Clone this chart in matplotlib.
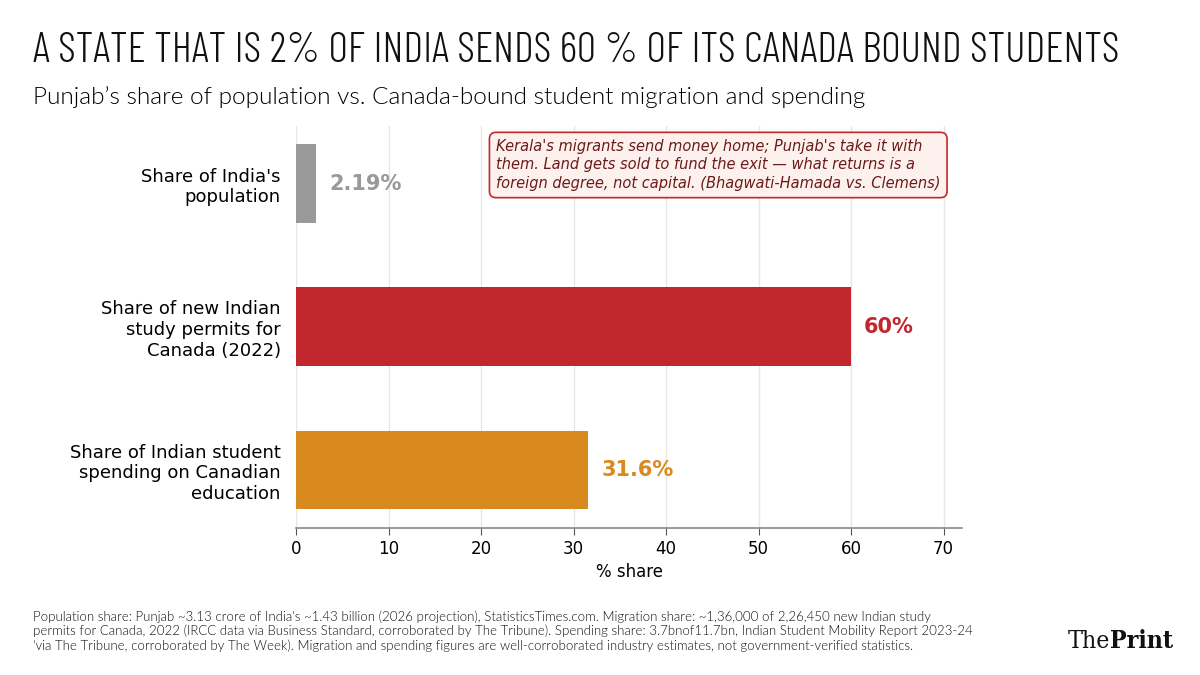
import matplotlib
matplotlib.use("Agg")
import matplotlib.pyplot as plt

# data
categories = ["Share of India's\npopulation",
              "Share of new Indian\nstudy permits for\nCanada (2022)",
              "Share of Indian student\nspending on Canadian\neducation"]
values = [2.19, 60, 31.6]
value_labels = ["2.19%", "60%", "31.6%"]
colors = ["#999999", "#c1272d", "#d98a1e"]
xticks = [0, 10, 20, 30, 40, 50, 60, 70]

title = "A STATE THAT IS 2% OF INDIA SENDS 60 % OF ITS CANADA BOUND STUDENTS"
subtitle = "Punjab\u2019s share of population vs. Canada-bound student migration and spending"
note = ("Kerala's migrants send money home; Punjab's take it with\n"
        "them. Land gets sold to fund the exit \u2014 what returns is a\n"
        "foreign degree, not capital. (Bhagwati-Hamada vs. Clemens)")
footnote = ("Population share: Punjab ~3.13 crore of India's ~1.43 billion (2026 projection), StatisticsTimes.com. Migration share: ~1,36,000 of 2,26,450 new Indian study\n"
            "permits for Canada, 2022 (IRCC data via Business Standard, corroborated by The Tribune). Spending share: 3.7bnof11.7bn, Indian Student Mobility Report 2023-24\n"
            "'via The Tribune, corroborated by The Week). Migration and spending figures are well-corroborated industry estimates, not government-verified statistics.")

plt.rcParams["font.family"] = "DejaVu Sans"
fig = plt.figure(figsize=(12, 6.75), dpi=100)
ax = fig.add_axes([296/1200, 1 - 527.7/675, (962-296)/1200, (527.7-126)/675])

y = list(range(len(values)))
ax.barh(y, values, height=0.55, color=colors, zorder=3)
ax.invert_yaxis()
ax.set_xlim(0, 72)
ax.set_xticks(xticks)
ax.set_yticks(y)
ax.set_yticklabels(categories, fontsize=13)
ax.tick_params(axis="y", length=0, pad=11)
ax.tick_params(axis="x", labelsize=12, color="#555555", length=5)
ax.set_xlabel("% share", fontsize=12)
ax.grid(axis="x", color="#e6e6e6", linewidth=1, zorder=0)
for s in ["top", "right", "left"]:
    ax.spines[s].set_visible(False)
ax.spines["bottom"].set_color("#888888")
ax.spines["bottom"].set_linewidth(1.2)

# value labels next to the bars
for yi, v, lab, c in zip(y, values, value_labels, colors):
    ax.text(v + 1.4, yi, lab, va="center", ha="left", fontsize=15,
            fontweight="bold", color=c)

fig.text(496/1200, 1 - 165/675, note, fontsize=10.5, style="italic",
         color="#6b1a1a", va="center", ha="left", linespacing=1.3,
         bbox=dict(boxstyle="round,pad=0.45", facecolor="#fdf1ee",
                   edgecolor="#c1272d", linewidth=1.2))

fig.text(33/1200, 1 - 62/675, title, fontsize=30.8, family="Barlow Condensed",
         fontweight=300, ha="left", va="baseline", color="#111111")
fig.text(33/1200, 1 - 104/675, subtitle, fontsize=17.6, family="Lato",
         fontweight=300, ha="left", va="baseline", color="#000000")
fig.text(33/1200, 1 - 610/675, footnote, fontsize=9.5, family="Lato",
         fontweight=300, ha="left", va="top", color="#111111", linespacing=1.22)

# logo
logo = fig.text(1068/1200, 1 - 648/675, "The", fontsize=17.8, family="DejaVu Serif",
                fontstretch="condensed", ha="left", va="baseline", color="#111111")
plt.annotate("Print", xy=(1, 0), xycoords=logo, fontsize=17.8,
             family="DejaVu Serif", fontstretch="condensed", fontweight="bold",
             ha="left", va="bottom", color="#111111", annotation_clip=False)

fig.savefig("out.png", dpi=100)
